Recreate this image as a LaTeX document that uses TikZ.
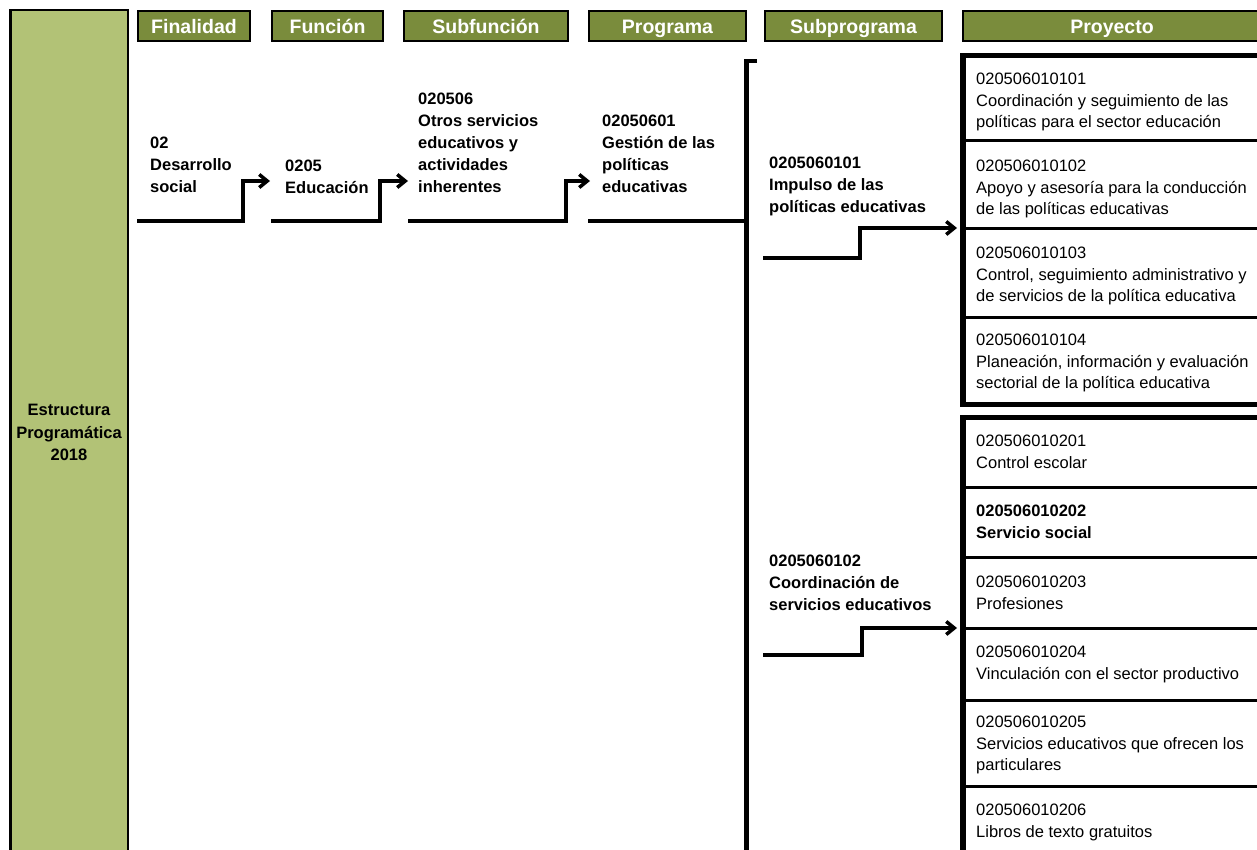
\documentclass[tikz,border=0pt]{standalone}
\usepackage{fontspec}
\setmainfont{Liberation Sans}
\usetikzlibrary{arrows.meta}
\definecolor{hdrgreen}{RGB}{122,140,60}
\definecolor{sidegreen}{RGB}{178,194,118}
\begin{document}
\begin{tikzpicture}[x=1pt,y=-1pt,
  hdr/.style={draw=black, line width=2pt, fill=hdrgreen, text=white,
    font=\fontsize{19.5}{22}\selectfont\bfseries, inner sep=0pt, minimum height=30pt,
    text height=18pt, text depth=2pt},
  lbl/.style={anchor=north west, inner sep=0pt, align=left,
    font=\fontsize{16.5}{22}\selectfont\bfseries},
  ptxt/.style={anchor=north west, inner sep=0pt, align=left,
    font=\fontsize{16.5}{21.3}\selectfont},
  pbox/.style={draw=black, line width=3pt, inner sep=0pt, anchor=north west,
    minimum width=300pt},
  grp/.style={draw=black, line width=4.5pt},
  conn/.style={line width=3.5pt, -{Straight Barb[length=8pt,width=13pt]}},
  bar/.style={line width=4.5pt}]
\clip (0,0) rectangle (1257,850);
\fill[white] (0,0) rectangle (1257,850);

% side box
\node[draw=black, line width=2.5pt, fill=sidegreen, minimum width=117.5pt,
  minimum height=845pt, inner sep=0pt, align=center,
  font=\fontsize{16.5}{22.5}\selectfont\bfseries] (side) at (69,432.5)
  {Estructura\\Programática\\2018};

% headers
\node[hdr, minimum width=112pt] (hfin) at (194,26) {Finalidad};
\node[hdr, minimum width=111pt] (hfun) at (327.5,26) {Función};
\node[hdr, minimum width=164pt] (hsub) at (486,26) {Subfunción};
\node[hdr, minimum width=157pt] (hprog) at (667.5,26) {Programa};
\node[hdr, minimum width=177pt] (hsubp) at (853.5,26) {Subprograma};
\node[hdr, minimum width=298pt] (hproy) at (1112,26) {Proyecto};

% level labels
\node[lbl] (fin) at (150,137.1) {02\\Desarrollo\\social};
\node[lbl] (fun) at (285,160.1) {0205\\Educación};
\node[lbl] (sub) at (418,93.1) {020506\\Otros servicios\\educativos y\\actividades\\inherentes};
\node[lbl] (prog) at (602,115.1) {02050601\\Gestión de las\\políticas\\educativas};
\node[lbl] (sp1) at (769,157.1) {0205060101\\Impulso de las\\políticas educativas};
\node[lbl] (sp2) at (769,555.1) {0205060102\\Coordinación de\\servicios educativos};

% project boxes group 1
\node[pbox, minimum height=84pt] (p1) at (962.5,55.5) {};
\node[pbox, minimum height=88pt] (p2) at (962.5,139.5) {};
\node[pbox, minimum height=88pt] (p3) at (962.5,227.5) {};
\node[pbox, minimum height=86pt] (p4) at (962.5,315.5) {};
\draw[grp] (p1.north east) -- (p1.north west) -- (p4.south west) -- (p4.south east);

% project boxes group 2
\node[pbox, minimum height=69pt] (p5) at (962.5,417) {};
\node[pbox, minimum height=70pt] (p6) at (962.5,486) {};
\node[pbox, minimum height=71pt] (p7) at (962.5,556) {};
\node[pbox, minimum height=72pt] (p8) at (962.5,627) {};
\node[pbox, minimum height=86pt] (p9) at (962.5,699) {};
\node[pbox, minimum height=90pt] (p10) at (962.5,785) {};
\draw[grp] (p5.north east) -- (p5.north west) -- (p10.south west);

% project texts
\node[ptxt] (t1) at (976,73.1) {020506010101\\Coordinación y seguimiento de las\\políticas para el sector educación};
\node[ptxt] (t2) at (976,160.1) {020506010102\\Apoyo y asesoría para la conducción\\de las políticas educativas};
\node[ptxt] (t3) at (976,247.1) {020506010103\\Control, seguimiento administrativo y\\de servicios de la política educativa};
\node[ptxt] (t4) at (976,334.1) {020506010104\\Planeación, información y evaluación\\sectorial de la política educativa};
\node[ptxt] (t5) at (976,435.1) {020506010201\\Control escolar};
\node[ptxt, font=\fontsize{16.5}{21.3}\selectfont\bfseries] (t6) at (976,505.1) {020506010202\\Servicio social};
\node[ptxt] (t7) at (976,576.1) {020506010203\\Profesiones};
\node[ptxt] (t8) at (976,646.1) {020506010204\\Vinculación con el sector productivo};
\node[ptxt] (t9) at (976,716.1) {020506010205\\Servicios educativos que ofrecen los\\particulares};
\node[ptxt] (t10) at (976,804.1) {020506010206\\Libros de texto gratuitos};

% connector coordinates
\coordinate (fin-out) at (137,221);
\coordinate (fun-in) at (270,181);
\coordinate (fun-out) at (271,221);
\coordinate (sub-in) at (408,181);
\coordinate (sub-out) at (408,221);
\coordinate (prog-in) at (590,181);
\coordinate (prog-out) at (588,221);
\coordinate (bar-top) at (757,61);
\coordinate (bar-x) at (746.5,61);
\coordinate (bar-bot) at (746.5,870);
\coordinate (sp1-out) at (763,258);
\coordinate (sp2-out) at (763,655);
\coordinate (p2-in) at (957,228);
\coordinate (p7-in) at (957,628);

% connectors
\draw[conn] (fin-out) -- ++(106,0) |- (fun-in);
\draw[conn] (fun-out) -- ++(109,0) |- (sub-in);
\draw[conn] (sub-out) -- ++(158,0) |- (prog-in);
\draw[bar] (prog-out) -- (746.5,221);
\draw[bar] (bar-top) -- (bar-x) -- (bar-bot);
\draw[conn] (sp1-out) -- ++(97,0) |- (p2-in);
\draw[conn] (sp2-out) -- ++(99,0) |- (p7-in);
\end{tikzpicture}
\end{document}
